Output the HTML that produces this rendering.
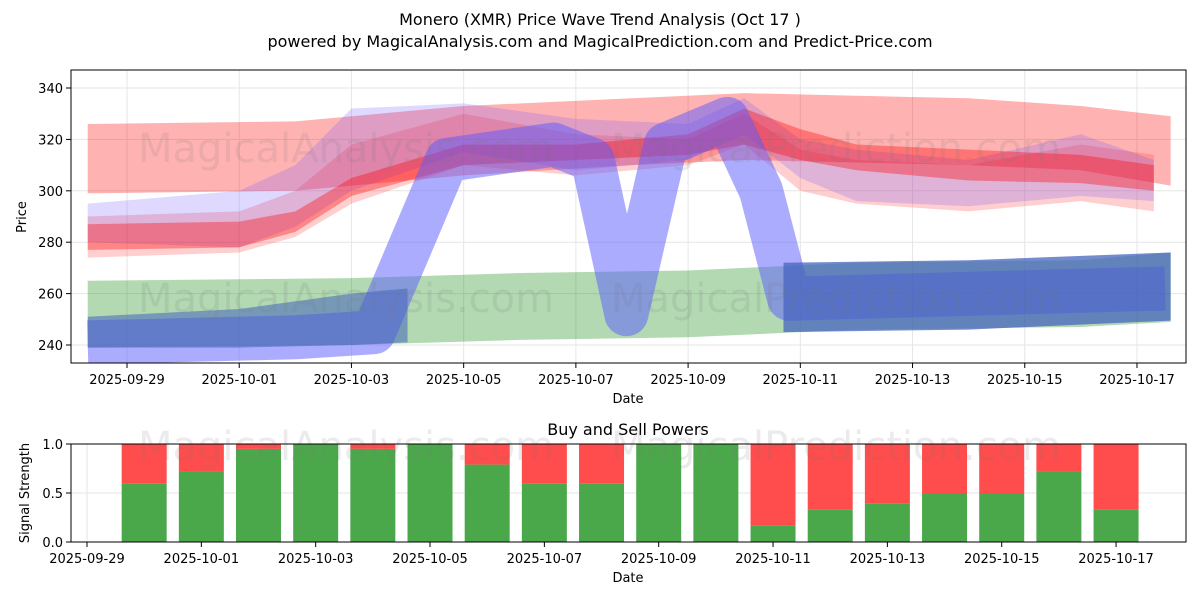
<!DOCTYPE html>
<html><head><meta charset="utf-8"><style>
body{margin:0;background:#fff;font-family:"Liberation Sans","DejaVu Sans",sans-serif}
svg text{font-family:"DejaVu Sans","Liberation Sans",sans-serif}
</style></head><body>
<svg id="c" width="1200" height="600" xmlns="http://www.w3.org/2000/svg"></svg>
<script>
// ---- data (dates = days after 2025-09-29) ----
const topTicksY=[240,260,280,300,320,340];
const dateTicks=["2025-09-29","2025-10-01","2025-10-03","2025-10-05","2025-10-07","2025-10-09","2025-10-11","2025-10-13","2025-10-15","2025-10-17"];
const greenDates=[-0.7,4,7,10,13,17,18.6];
const greenUpper=[265,266,268,269,272,273,276];
const greenLower=[239,240,242,243,246,247,249];
const darkDatesA=[-0.7,2,4,5];
const darkUpperA=[251,254,260,262];
const darkLowerA=[239,239,240,241];
const darkDatesB=[11.7,15,18.6];
const darkUpperB=[272,273,276];
const darkLowerB=[245,246,249.5];
const waveDates=[-0.7,3,4.4,5.7,7.6,8.3,8.9,9.6,10.7,11.3,11.8,18.5];
const waveValues=[241,243,245,312,318,312,252,318,328,300,258,262];
const redDates=[-0.7,3,6,9,11,13,15,17,18.6];
const redUpper=[326,327,333,336,338,337,336,333,329];
const redLower=[299,300,306,310,312,311,310,308,302];
const bandDates=[-0.7,2,3,4,6,8,10,11,12,13,15,17,18.3];
const band1U=[287,288,292,305,318,318,322,332,324,318,316,314,310];
const band1L=[277,278,284,298,310,312,314,318,312,308,304,303,300];
const band2U=[295,300,310,332,334,328,326,336,320,316,312,322,312];
const band2L=[280,278,286,300,315,308,312,322,305,296,294,298,296];
const band3U=[290,292,300,318,330,322,320,330,316,312,310,318,314];
const band3L=[274,276,282,295,310,306,310,318,300,295,292,296,292];
const buyDates=[1,2,3,4,5,6,7,8,9,10,11,12,13,14,15,16,17,18];
const buyVals=[0.6,0.72,0.95,1.0,0.95,1.0,0.79,0.6,0.6,1.0,1.0,0.17,0.33,0.39,0.5,0.5,0.72,0.33];
const bottomTicksY=[0,0.5,1];

const S="http://www.w3.org/2000/svg";const svg=document.getElementById('c');
function el(t,a,txt){const e=document.createElementNS(S,t);for(const k in a)e.setAttribute(k,a[k]);if(txt!==undefined)e.textContent=txt;svg.appendChild(e);return e;}
const xT=d=>127+d*56.11, yT=v=>345-(v-240)*2.57;
const xB=d=>87+d*57.17, yB=v=>542-v*98;

el('text',{x:600,y:25,'text-anchor':'middle','font-size':16,},'Monero (XMR) Price Wave Trend Analysis (Oct 17 )');
el('text',{x:600,y:47,'text-anchor':'middle','font-size':16,},'powered by MagicalAnalysis.com and MagicalPrediction.com and Predict-Price.com');

topTicksY.forEach(v=>{el('line',{x1:71,x2:1186,y1:yT(v),y2:yT(v),stroke:'#e6e6e6','stroke-width':1});
 const t=el('text',{x:63,y:yT(v)+5,'text-anchor':'end','font-size':13},v);
 el('line',{x1:66,x2:71,y1:yT(v),y2:yT(v),stroke:'#000'});});
dateTicks.forEach((d,i)=>{const x=xT(i*2);el('line',{x1:x,x2:x,y1:70,y2:363,stroke:'#e6e6e6'});
 el('line',{x1:x,x2:x,y1:363,y2:368,stroke:'#000'});
 const t=el('text',{x:x,y:384,'text-anchor':'middle','font-size':13},d);});

function band(ds,u,l,fill,name){let p=ds.map((d,i)=>xT(d)+','+yT(u[i]));for(let i=ds.length-1;i>=0;i--)p.push(xT(ds[i])+','+yT(l[i]));
 const e=el('polygon',{points:p.join(' '),fill:fill});}
const clip=el('clipPath',{id:'tc'});const r=document.createElementNS(S,'rect');r.setAttribute('x',71);r.setAttribute('y',70);r.setAttribute('width',1115);r.setAttribute('height',293);clip.appendChild(r);
band(greenDates,greenUpper,greenLower,'rgba(0,128,0,0.3)','green-band');
band(redDates,redUpper,redLower,'rgba(255,0,0,0.3)','red-band');
band(bandDates,band3U,band3L,'rgba(255,60,60,0.25)','wave-band-3');
band(bandDates,band2U,band2L,'rgba(110,80,255,0.22)','wave-band-2');
band(bandDates,band1U,band1L,'rgba(255,0,0,0.35)','wave-band-1');
const wl=el('polyline',{points:waveDates.map((d,i)=>xT(d)+','+yT(waveValues[i])).join(' '),fill:'none',stroke:'rgba(90,90,255,0.5)','stroke-width':44,'stroke-linejoin':'round','stroke-linecap':'butt','clip-path':'url(#tc)'});

band(darkDatesA,darkUpperA,darkLowerA,'rgba(70,100,190,0.55)','dark-band-start');
band(darkDatesB,darkUpperB,darkLowerB,'rgba(70,100,190,0.75)','dark-band-end');

['MagicalAnalysis.com','MagicalPrediction.com'].forEach((w,i)=>{el('text',{x:i?836:346,y:162,'text-anchor':'middle','font-size':40,fill:'rgba(120,120,120,0.15)'},w);el('text',{x:i?836:346,y:312,'text-anchor':'middle','font-size':40,fill:'rgba(120,120,120,0.15)'},w);});
el('rect',{x:71,y:70,width:1115,height:293,fill:'none',stroke:'#000','stroke-width':1});
el('text',{x:628,y:403,'text-anchor':'middle','font-size':13,},'Date');
el('text',{x:26,y:217,'text-anchor':'middle','font-size':13,transform:'rotate(-90 26 217)',},'Price');

el('text',{x:628,y:435,'text-anchor':'middle','font-size':16,},'Buy and Sell Powers');
bottomTicksY.forEach(v=>{el('line',{x1:71,x2:1186,y1:yB(v),y2:yB(v),stroke:'#e6e6e6'});el('line',{x1:66,x2:71,y1:yB(v),y2:yB(v),stroke:'#000'});
 const t=el('text',{x:63,y:yB(v)+5,'text-anchor':'end','font-size':13},v.toFixed(1));});
dateTicks.forEach((d,i)=>{const x=xB(i*2);el('line',{x1:x,x2:x,y1:444,y2:542,stroke:'#e6e6e6'});el('line',{x1:x,x2:x,y1:542,y2:547,stroke:'#000'});
 const t=el('text',{x:x,y:563,'text-anchor':'middle','font-size':13},d);});
buyDates.forEach((d,i)=>{const x=xB(d)-22.5;
 const g=el('rect',{x:x,y:yB(buyVals[i]),width:45,height:yB(0)-yB(buyVals[i]),fill:'#4aa84a'});
 const s=el('rect',{x:x,y:yB(1),width:45,height:yB(buyVals[i])-yB(1),fill:'#ff4c4c'});});
el('text',{x:346,y:460,'text-anchor':'middle','font-size':40,fill:'rgba(120,120,120,0.15)'},'MagicalAnalysis.com');
el('text',{x:836,y:460,'text-anchor':'middle','font-size':40,fill:'rgba(120,120,120,0.15)'},'MagicalPrediction.com');
el('rect',{x:71,y:444,width:1115,height:98,fill:'none',stroke:'#000'});
el('text',{x:628,y:582,'text-anchor':'middle','font-size':13,},'Date');
el('text',{x:29,y:493,'text-anchor':'middle','font-size':13,transform:'rotate(-90 29 493)',},'Signal Strength');
</script>
</body></html>
